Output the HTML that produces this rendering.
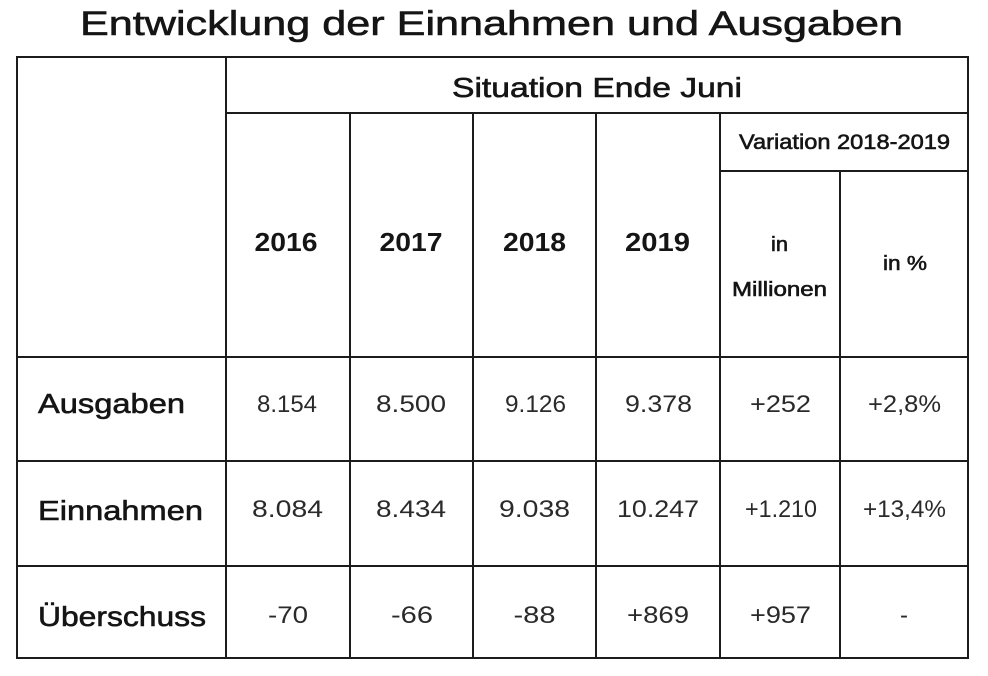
<!DOCTYPE html>
<html>
<head>
<meta charset="utf-8">
<style>
  html, body { margin: 0; padding: 0; background: #ffffff; }
  body { width: 988px; height: 676px; overflow: hidden; }
  svg { display: block; }
  text { font-family: "Liberation Sans", "DejaVu Sans", sans-serif; fill: #151515; }
  .med { stroke: #151515; stroke-width: 0.6; }
  .val { fill: #2a2a2a; }
</style>
</head>
<body>
<svg width="988" height="676" viewBox="0 0 988 676" xmlns="http://www.w3.org/2000/svg">
  <rect x="0" y="0" width="988" height="676" fill="#ffffff"/>

  <!-- Title -->
  <text x="491.5" y="35" font-size="34" text-anchor="middle" class="med" textLength="823" lengthAdjust="spacingAndGlyphs">Entwicklung der Einnahmen und Ausgaben</text>

  <!-- Grid lines -->
  <g stroke="#1c1c1c" stroke-width="2" fill="none">
    <line x1="16" y1="57" x2="969" y2="57"/>
    <line x1="226" y1="113" x2="969" y2="113"/>
    <line x1="720" y1="171" x2="969" y2="171"/>
    <line x1="16" y1="357" x2="969" y2="357"/>
    <line x1="16" y1="461" x2="969" y2="461"/>
    <line x1="16" y1="566" x2="969" y2="566"/>
    <line x1="16" y1="658" x2="969" y2="658"/>

    <line x1="17" y1="56" x2="17" y2="659"/>
    <line x1="226" y1="56" x2="226" y2="659"/>
    <line x1="350" y1="113" x2="350" y2="659"/>
    <line x1="473" y1="113" x2="473" y2="659"/>
    <line x1="596" y1="113" x2="596" y2="659"/>
    <line x1="720" y1="113" x2="720" y2="659"/>
    <line x1="840" y1="171" x2="840" y2="659"/>
    <line x1="968" y1="56" x2="968" y2="659"/>
  </g>

  <!-- Header texts -->
  <text x="597" y="97" font-size="28" text-anchor="middle" class="med" textLength="290" lengthAdjust="spacingAndGlyphs">Situation Ende Juni</text>
  <text x="844.5" y="149" font-size="21" text-anchor="middle" class="med" textLength="211" lengthAdjust="spacingAndGlyphs">Variation 2018-2019</text>

  <text x="286" y="251" font-size="26" font-weight="bold" text-anchor="middle" textLength="63" lengthAdjust="spacingAndGlyphs">2016</text>
  <text x="411" y="251" font-size="26" font-weight="bold" text-anchor="middle" textLength="63" lengthAdjust="spacingAndGlyphs">2017</text>
  <text x="534.5" y="251" font-size="26" font-weight="bold" text-anchor="middle" textLength="63" lengthAdjust="spacingAndGlyphs">2018</text>
  <text x="657.5" y="251" font-size="26" font-weight="bold" text-anchor="middle" textLength="65" lengthAdjust="spacingAndGlyphs">2019</text>

  <text x="779.5" y="251" font-size="20" text-anchor="middle" class="med" textLength="17" lengthAdjust="spacingAndGlyphs">in</text>
  <text x="779.5" y="296" font-size="20" text-anchor="middle" class="med" textLength="95" lengthAdjust="spacingAndGlyphs">Millionen</text>
  <text x="905" y="270" font-size="20" text-anchor="middle" class="med" textLength="44" lengthAdjust="spacingAndGlyphs">in %</text>

  <!-- Row labels -->
  <text x="38" y="413" font-size="28" class="med" textLength="147" lengthAdjust="spacingAndGlyphs">Ausgaben</text>
  <text x="38" y="520" font-size="28" class="med" textLength="165" lengthAdjust="spacingAndGlyphs">Einnahmen</text>
  <text x="38" y="626" font-size="28" class="med" textLength="168" lengthAdjust="spacingAndGlyphs">Überschuss</text>

  <!-- Row 1: Ausgaben -->
  <text class="val" x="287" y="412" font-size="24" text-anchor="middle" textLength="60" lengthAdjust="spacingAndGlyphs">8.154</text>
  <text class="val" x="411" y="412" font-size="24" text-anchor="middle" textLength="70" lengthAdjust="spacingAndGlyphs">8.500</text>
  <text class="val" x="535.5" y="412" font-size="24" text-anchor="middle" textLength="61" lengthAdjust="spacingAndGlyphs">9.126</text>
  <text class="val" x="658.5" y="412" font-size="24" text-anchor="middle" textLength="67" lengthAdjust="spacingAndGlyphs">9.378</text>
  <text class="val" x="780.5" y="412" font-size="24" text-anchor="middle" textLength="61" lengthAdjust="spacingAndGlyphs">+252</text>
  <text class="val" x="904.5" y="412" font-size="24" text-anchor="middle" textLength="73" lengthAdjust="spacingAndGlyphs">+2,8%</text>

  <!-- Row 2: Einnahmen -->
  <text class="val" x="287.5" y="517" font-size="24" text-anchor="middle" textLength="71" lengthAdjust="spacingAndGlyphs">8.084</text>
  <text class="val" x="411" y="517" font-size="24" text-anchor="middle" textLength="70" lengthAdjust="spacingAndGlyphs">8.434</text>
  <text class="val" x="534.5" y="517" font-size="24" text-anchor="middle" textLength="71" lengthAdjust="spacingAndGlyphs">9.038</text>
  <text class="val" x="658" y="517" font-size="24" text-anchor="middle" textLength="82" lengthAdjust="spacingAndGlyphs">10.247</text>
  <text class="val" x="781" y="517" font-size="24" text-anchor="middle" textLength="72" lengthAdjust="spacingAndGlyphs">+1.210</text>
  <text class="val" x="904.5" y="517" font-size="24" text-anchor="middle" textLength="83" lengthAdjust="spacingAndGlyphs">+13,4%</text>

  <!-- Row 3: Überschuss -->
  <text class="val" x="288" y="623" font-size="24" text-anchor="middle" textLength="40" lengthAdjust="spacingAndGlyphs">-70</text>
  <text class="val" x="412" y="623" font-size="24" text-anchor="middle" textLength="42" lengthAdjust="spacingAndGlyphs">-66</text>
  <text class="val" x="534.5" y="623" font-size="24" text-anchor="middle" textLength="42" lengthAdjust="spacingAndGlyphs">-88</text>
  <text class="val" x="658" y="623" font-size="24" text-anchor="middle" textLength="62" lengthAdjust="spacingAndGlyphs">+869</text>
  <text class="val" x="780.5" y="623" font-size="24" text-anchor="middle" textLength="61" lengthAdjust="spacingAndGlyphs">+957</text>
  <text class="val" x="904" y="623" font-size="24" text-anchor="middle">-</text>
</svg>
</body>
</html>
